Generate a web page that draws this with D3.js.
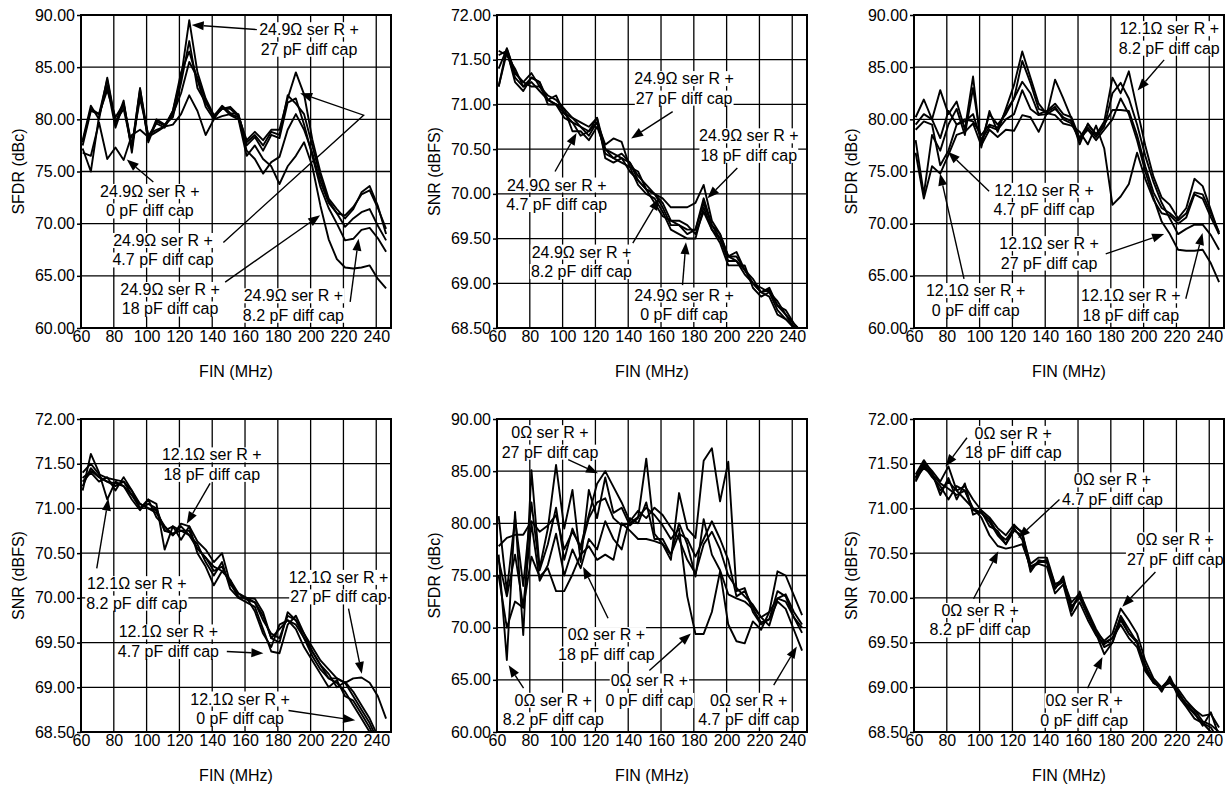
<!DOCTYPE html>
<html>
<head>
<meta charset="utf-8">
<script src="https://cdn.jsdelivr.net/npm/d3@7"></script>
<style>
  html, body { margin: 0; padding: 0; background: #fff; }
  svg { display: block; }
</style>
</head>
<body>
<svg id="chart" width="1231" height="785"></svg>
<script>
// input frequency sample points (MHz)
const fin = [61, 66, 71, 76, 81, 86, 91, 96, 101, 106, 111, 116, 121, 126, 131, 136, 141, 146, 151, 156,
  161, 166, 171, 176, 181, 186, 191, 196, 201, 206, 211, 216, 221, 226, 231, 236, 241, 246]

const finTicks = [60, 80, 100, 120, 140, 160, 180, 200, 220, 240]
const sfdrTicks = [60, 65, 70, 75, 80, 85, 90]
const snrTicks = [68.5, 69, 69.5, 70, 70.5, 71, 71.5, 72]

// 24.9 ohm series R, SFDR (dBc)
const sfdr24_0 = [76.8, 76.5, 79.7, 76.2, 77.3, 76.1, 78.5, 79.0, 78.3, 78.8, 79.3, 79.5, 80.5, 82.3, 80.8, 78.5, 80.0, 80.3, 80.5, 80.2,
  77.0, 76.2, 74.8, 75.9, 76.4, 79.0, 80.5, 79.0, 76.8, 74.0, 72.0, 71.0, 70.8, 71.6, 72.8, 73.2, 71.5, 69.5]
const sfdr24_4 = [77.8, 81.0, 80.5, 82.8, 80.2, 81.5, 77.5, 82.0, 78.5, 79.0, 79.3, 80.5, 82.5, 85.5, 84.0, 81.8, 80.2, 81.0, 81.0, 80.3,
  78.0, 78.8, 78.0, 79.0, 79.0, 82.0, 84.5, 82.4, 78.1, 74.9, 72.4, 71.4, 70.5, 71.4, 73.0, 73.6, 71.7, 69.0]
const sfdr24_8 = [77.5, 80.8, 80.5, 83.8, 79.6, 81.8, 76.8, 82.6, 78.0, 80.0, 79.5, 80.2, 83.5, 87.5, 83.0, 81.6, 80.3, 81.3, 80.6, 80.5,
  77.5, 78.3, 77.0, 78.5, 78.2, 81.6, 82.0, 79.5, 76.5, 73.5, 71.5, 70.0, 68.4, 68.55, 69.4, 69.6, 68.6, 67.3]
const sfdr24_18 = [77.2, 75.0, 80.3, 83.2, 79.2, 81.5, 77.2, 82.9, 78.4, 79.6, 79.2, 80.8, 84.5, 86.5, 83.8, 81.2, 80.0, 81.2, 80.4, 80.0,
  76.5, 77.5, 76.2, 75.5, 73.8, 75.5, 76.5, 77.8, 75.5, 71.7, 68.5, 66.6, 65.8, 65.7, 65.8, 66.0, 64.7, 63.8]
const sfdr24_27 = [78.0, 81.3, 80.0, 84.0, 79.8, 81.0, 77.3, 83.0, 77.8, 79.8, 79.4, 80.8, 84.0, 89.5, 84.5, 82.0, 80.4, 81.0, 81.2, 80.4,
  77.8, 78.5, 77.5, 78.8, 78.5, 82.3, 81.5, 80.5, 77.5, 74.5, 72.2, 71.0, 69.7, 70.5, 71.1, 71.4, 69.8, 68.4]

// 24.9 ohm series R, SNR (dBFS)
const snr24_0 = [71.20, 71.58, 71.30, 71.20, 71.25, 71.15, 71.05, 71.00, 70.90, 70.80, 70.75, 70.65, 70.80, 70.45, 70.40, 70.35, 70.30, 70.10, 70.00, 69.95,
  69.80, 69.60, 69.55, 69.50, 69.50, 69.85, 69.60, 69.50, 69.25, 69.25, 69.10, 69.00, 68.90, 68.85, 68.65, 68.60, 68.50, 68.40]
const snr24_4 = [71.40, 71.62, 71.35, 71.25, 71.35, 71.20, 71.10, 71.05, 70.95, 70.70, 70.70, 70.60, 70.75, 70.50, 70.40, 70.45, 70.35, 70.15, 70.05, 70.00,
  69.90, 69.70, 69.65, 69.60, 69.60, 69.95, 69.65, 69.55, 69.30, 69.35, 69.15, 69.05, 68.90, 68.95, 68.75, 68.70, 68.55, 68.45]
const snr24_8 = [71.55, 71.60, 71.25, 71.15, 71.30, 71.25, 71.00, 71.00, 70.85, 70.80, 70.65, 70.70, 70.85, 70.40, 70.35, 70.40, 70.25, 70.15, 70.05, 69.90,
  69.75, 69.70, 69.70, 69.65, 69.55, 69.80, 69.60, 69.45, 69.20, 69.20, 69.20, 68.95, 68.85, 68.90, 68.70, 68.60, 68.52, 68.42]
const snr24_18 = [71.60, 71.55, 71.40, 71.20, 71.30, 71.25, 71.05, 71.10, 70.90, 70.85, 70.80, 70.75, 70.85, 70.50, 70.45, 70.40, 70.35, 70.20, 70.10, 70.00,
  69.95, 69.85, 69.85, 69.85, 69.90, 70.10, 69.70, 69.55, 69.30, 69.30, 69.15, 69.00, 68.95, 68.90, 68.80, 68.65, 68.55, 68.45]
const snr24_27 = [71.20, 71.63, 71.35, 71.25, 71.20, 71.20, 71.05, 71.00, 70.95, 70.85, 70.75, 70.70, 70.80, 70.55, 70.62, 70.58, 70.30, 70.25, 70.05, 70.00,
  69.85, 69.65, 69.65, 69.55, 69.60, 69.90, 69.65, 69.50, 69.30, 69.25, 69.15, 69.00, 68.90, 68.92, 68.75, 68.65, 68.50, 68.40]

// 12.1 ohm series R, SFDR (dBc)
const sfdr12_0 = [76.8, 72.4, 75.5, 74.8, 76.6, 78.5, 78.8, 79.6, 77.5, 79.0, 78.3, 79.0, 78.9, 80.4, 80.2, 78.8, 80.6, 80.4, 79.6, 79.4,
  78.8, 77.6, 79.4, 77.2, 71.8, 72.6, 73.8, 76.8, 74.3, 72.3, 71.0, 70.8, 70.0, 70.6, 72.8, 72.4, 70.6, 69.0]
const sfdr12_4 = [78.0, 72.8, 78.5, 77.0, 79.5, 81.0, 78.5, 83.0, 77.8, 80.5, 79.5, 80.5, 82.0, 83.6, 82.5, 80.5, 80.8, 81.5, 80.5, 80.2,
  78.2, 79.5, 78.6, 79.5, 80.9, 80.9, 80.8, 78.5, 75.5, 73.0, 71.5, 71.0, 70.3, 71.0, 73.0, 72.8, 71.0, 69.2]
const sfdr12_8 = [79.5, 80.5, 80.0, 82.8, 80.5, 81.7, 79.0, 84.1, 77.3, 80.8, 78.8, 81.0, 83.3, 86.5, 84.0, 81.5, 80.5, 83.8, 82.0, 80.1,
  77.6, 79.6, 78.5, 79.8, 84.0, 82.5, 84.6, 81.0, 77.5, 74.5, 72.5, 71.8, 70.5, 71.5, 74.3, 73.6, 71.3, 69.0]
const sfdr12_18 = [80.2, 81.9, 80.0, 78.2, 80.8, 79.5, 80.0, 79.8, 78.5, 79.5, 79.2, 80.8, 82.0, 85.6, 83.5, 81.0, 80.7, 81.2, 80.0, 79.6,
  78.0, 79.2, 78.3, 79.3, 82.5, 83.5, 82.0, 79.5, 76.5, 74.0, 72.0, 70.5, 69.0, 69.5, 69.9, 69.9, 68.9, 67.5]
const sfdr12_27 = [79.0, 79.8, 79.5, 75.6, 77.0, 79.5, 79.8, 80.5, 78.0, 79.3, 79.0, 80.0, 80.5, 82.8, 81.0, 80.4, 80.5, 81.0, 80.2, 79.8,
  78.2, 79.0, 78.0, 79.0, 80.0, 82.0, 80.5, 78.0, 75.0, 72.5, 70.2, 69.0, 67.5, 67.4, 67.4, 67.5, 66.2, 64.4]

// 12.1 ohm series R, SNR (dBFS)
const snr12_0 = [71.25, 71.45, 71.35, 71.30, 71.25, 71.30, 71.15, 71.00, 71.05, 71.00, 70.75, 70.80, 70.75, 70.75, 70.55, 70.45, 70.30, 70.35, 70.15, 70.05,
  70.00, 69.95, 69.80, 69.55, 69.65, 69.75, 69.70, 69.55, 69.35, 69.20, 69.10, 69.05, 68.95, 68.80, 68.65, 68.50, 68.30, 68.10]
const snr12_4 = [71.30, 71.40, 71.30, 71.35, 71.20, 71.35, 71.20, 71.05, 71.00, 70.95, 70.80, 70.70, 70.80, 70.70, 70.60, 70.40, 70.25, 70.40, 70.10, 70.00,
  69.95, 69.90, 69.65, 69.40, 69.38, 69.70, 69.80, 69.60, 69.40, 69.25, 69.10, 69.10, 69.05, 68.90, 68.75, 68.60, 68.40, 68.20]
const snr12_8 = [71.20, 71.61, 71.40, 71.10, 71.30, 71.25, 71.10, 70.98, 71.10, 71.05, 70.54, 70.80, 70.65, 70.80, 70.50, 70.35, 70.14, 70.30, 70.20, 70.00,
  70.00, 69.85, 69.60, 69.45, 69.70, 69.75, 69.65, 69.45, 69.30, 69.15, 69.00, 69.08, 68.90, 68.85, 68.70, 68.55, 68.35, 68.15]
const snr12_18 = [71.40, 71.50, 71.38, 71.34, 71.32, 71.30, 71.20, 71.00, 71.10, 70.90, 70.80, 70.70, 70.83, 70.80, 70.63, 70.54, 70.40, 70.50, 70.16, 70.01,
  70.00, 69.99, 69.84, 69.55, 69.50, 69.84, 69.75, 69.55, 69.40, 69.25, 69.15, 69.00, 69.06, 68.95, 68.80, 68.65, 68.45, 68.25]
const snr12_27 = [71.34, 71.42, 71.35, 71.30, 71.28, 71.25, 71.15, 71.05, 71.00, 70.98, 70.75, 70.72, 70.75, 70.70, 70.55, 70.45, 70.35, 70.30, 70.20, 70.05,
  69.98, 69.95, 69.75, 69.60, 69.55, 69.80, 69.75, 69.60, 69.45, 69.30, 69.20, 69.10, 69.05, 69.10, 69.11, 69.05, 68.90, 68.65]

// 0 ohm series R, SFDR (dBc)
const sfdr0_0 = [80.7, 73.5, 80.5, 74.0, 82.0, 75.5, 78.0, 81.5, 76.5, 79.5, 77.5, 80.5, 82.0, 82.4, 80.5, 79.8, 80.0, 80.6, 81.5, 80.8,
  79.8, 78.5, 79.5, 73.0, 69.4, 69.4, 71.5, 75.4, 70.3, 68.7, 68.5, 70.6, 69.8, 71.5, 72.8, 72.5, 71.0, 70.0]
const sfdr0_4 = [75.0, 70.0, 72.5, 71.9, 76.8, 74.9, 75.7, 73.5, 73.5, 75.1, 77.0, 77.8, 76.5, 77.0, 76.5, 80.0, 79.3, 78.5, 78.5, 78.3,
  78.0, 77.0, 80.0, 78.0, 74.9, 80.4, 77.0, 75.5, 73.2, 72.8, 72.5, 71.8, 70.5, 70.8, 72.5, 71.8, 69.8, 67.8]
const sfdr0_8 = [77.0, 66.9, 81.1, 69.3, 85.1, 75.7, 79.5, 85.6, 79.5, 83.2, 76.3, 83.2, 80.5, 84.4, 81.0, 81.5, 79.8, 80.5, 86.2, 79.0,
  78.0, 76.5, 82.9, 79.5, 78.6, 86.0, 87.2, 82.1, 85.9, 73.5, 73.8, 71.5, 70.3, 70.8, 73.5, 73.0, 71.0, 69.5]
const sfdr0_18 = [76.5, 73.0, 77.0, 72.0, 80.0, 74.5, 76.0, 79.0, 75.0, 77.5, 75.7, 78.5, 77.5, 80.2, 78.5, 77.5, 80.5, 80.0, 82.0, 78.5,
  78.5, 77.0, 79.0, 78.5, 76.8, 78.5, 80.2, 78.5, 76.5, 73.0, 73.5, 72.0, 71.0, 70.2, 72.8, 73.2, 71.5, 70.3]
const sfdr0_27 = [77.8, 78.6, 78.9, 78.9, 80.2, 79.2, 79.8, 80.8, 77.5, 79.2, 77.8, 80.8, 83.8, 85.0, 83.5, 82.0, 80.2, 81.2, 80.5, 81.5,
  80.8, 79.6, 78.5, 76.5, 75.2, 78.0, 79.2, 77.5, 75.0, 73.8, 73.0, 72.2, 71.0, 71.5, 75.4, 75.0, 73.1, 71.2]

// 0 ohm series R, SNR (dBFS)
const snr0_0 = [71.32, 71.50, 71.38, 71.20, 71.30, 71.20, 71.10, 71.00, 70.95, 70.85, 70.70, 70.60, 70.75, 70.70, 70.35, 70.40, 70.40, 70.15, 70.20, 69.90,
  70.00, 69.80, 69.60, 69.37, 69.50, 69.75, 69.60, 69.50, 69.25, 69.05, 69.00, 69.05, 68.95, 68.80, 68.70, 68.60, 68.55, 68.40]
const snr0_4 = [71.38, 71.54, 71.40, 71.15, 71.34, 71.10, 71.28, 70.93, 70.97, 70.80, 70.75, 70.60, 70.80, 70.74, 70.29, 70.42, 70.40, 70.10, 70.24, 69.85,
  70.07, 69.80, 69.62, 69.45, 69.50, 69.80, 69.65, 69.50, 69.20, 69.06, 68.98, 69.08, 68.95, 68.80, 68.72, 68.57, 68.72, 68.45]
const snr0_8 = [71.30, 71.48, 71.35, 71.25, 71.10, 71.25, 71.20, 71.00, 70.90, 70.70, 70.58, 70.55, 70.57, 70.60, 70.35, 70.38, 70.35, 70.05, 70.15, 69.80,
  69.95, 69.75, 69.58, 69.48, 69.55, 69.70, 69.55, 69.45, 69.18, 69.05, 69.00, 69.10, 68.90, 68.78, 68.65, 68.60, 68.50, 68.40]
const snr0_18 = [71.35, 71.52, 71.42, 71.30, 71.47, 71.20, 71.25, 71.10, 70.98, 70.90, 70.78, 70.70, 70.82, 70.72, 70.38, 70.45, 70.45, 70.15, 70.20, 69.95,
  70.05, 69.85, 69.65, 69.50, 69.55, 69.78, 69.60, 69.52, 69.22, 69.08, 68.95, 69.12, 68.92, 68.82, 68.75, 68.62, 68.58, 68.50]
const snr0_27 = [71.34, 71.45, 71.38, 71.28, 71.22, 71.15, 71.20, 70.98, 70.95, 70.88, 70.72, 70.65, 70.78, 70.65, 70.32, 70.40, 70.42, 70.12, 70.18, 69.90,
  70.02, 69.82, 69.62, 69.52, 69.60, 69.88, 69.75, 69.60, 69.30, 69.10, 69.00, 69.08, 68.98, 68.85, 68.75, 68.68, 68.70, 68.55]

const FONT = '"Liberation Sans", Arial, Helvetica, sans-serif'
const plotW = 310, plotH = 313
const colX = [81, 497, 914]
const rowY = [15, 419]
const lineGap = 19.5

// each note: caption line, centre of first text line (data units), leader path ending at the arrow tip
const panels = [
  { col: 0, row: 0, title: "SFDR (dBc)", ticks: sfdrTicks, res: "24.9Ω ser R +",
    series: [sfdr24_0, sfdr24_4, sfdr24_8, sfdr24_18, sfdr24_27],
    notes: [
      { cap: "27 pF diff cap", x: 199, y: 88.6, path: [[167.2, 88.6], [127.5, 89.05]] },
      { cap: "0 pF diff cap", x: 102, y: 73.1, path: [[104.1, 74.0], [87.9, 76.15]] },
      { cap: "4.7 pF diff cap", x: 110, y: 68.4, path: [[146.8, 68.2], [232.3, 80.4], [193.6, 82.5]] },
      { cap: "18 pF diff cap", x: 114.3, y: 63.7, path: [[147.9, 64.4], [205.8, 70.8]] },
      { cap: "8.2 pF diff cap", x: 189.5, y: 63.1, path: [[224.1, 62.5], [229.2, 68.55]] }
    ] },
  { col: 1, row: 0, title: "SNR (dBFS)", ticks: snrTicks, res: "24.9Ω ser R +",
    series: [snr24_0, snr24_4, snr24_8, snr24_18, snr24_27],
    notes: [
      { cap: "27 pF diff cap", x: 174.1, y: 71.29, path: [[167.1, 70.92], [141.8, 70.62]] },
      { cap: "18 pF diff cap", x: 213.5, y: 70.65, path: [[206.5, 70.29], [188.3, 69.95]] },
      { cap: "4.7 pF diff cap", x: 96.4, y: 70.1, path: [[95.4, 70.25], [108.5, 70.68]] },
      { cap: "8.2 pF diff cap", x: 111.5, y: 69.35, path: [[142.8, 69.45], [159, 69.95]] },
      { cap: "0 pF diff cap", x: 174.1, y: 68.87, path: [[173.1, 68.98], [175.2, 69.46]] }
    ] },
  { col: 2, row: 0, title: "SFDR (dBc)", ticks: sfdrTicks, res: "12.1Ω ser R +",
    series: [sfdr12_0, sfdr12_4, sfdr12_8, sfdr12_18, sfdr12_27],
    notes: [
      { cap: "8.2 pF diff cap", x: 215.6, y: 88.7, path: [[212.5, 85.7], [196.3, 82.76]] },
      { cap: "4.7 pF diff cap", x: 139.3, y: 73.2, path: [[105.8, 73.1], [80.7, 76.9]] },
      { cap: "27 pF diff cap", x: 142.4, y: 68.1, path: [[176.9, 67.1], [212.5, 69.0]] },
      { cap: "0 pF diff cap", x: 97.6, y: 63.6, path: [[90.5, 64.7], [75.9, 74.8]] },
      { cap: "18 pF diff cap", x: 192.2, y: 63.1, path: [[225.7, 62.8], [235.9, 69.1]] }
    ] },
  { col: 0, row: 1, title: "SNR (dBFS)", ticks: snrTicks, res: "12.1Ω ser R +",
    series: [snr12_0, snr12_4, snr12_8, snr12_18, snr12_27],
    notes: [
      { cap: "18 pF diff cap", x: 139.7, y: 71.6, path: [[138.7, 71.28], [124.5, 70.83]] },
      { cap: "8.2 pF diff cap", x: 94, y: 70.16, path: [[69.6, 70.33], [76.7, 71.11]] },
      { cap: "4.7 pF diff cap", x: 113.3, y: 69.62, path: [[148.9, 69.4], [171.2, 69.38]] },
      { cap: "27 pF diff cap", x: 217, y: 70.23, path: [[223.1, 69.88], [231.2, 69.15]] },
      { cap: "0 pF diff cap", x: 157, y: 68.87, path: [[186.5, 68.74], [227.2, 68.63]] }
    ] },
  { col: 1, row: 1, title: "SFDR (dBc)", ticks: sfdrTicks, res: "0Ω ser R +",
    series: [sfdr0_0, sfdr0_4, sfdr0_8, sfdr0_18, sfdr0_27],
    notes: [
      { cap: "27 pF diff cap", x: 92.3, y: 88.7, path: [[103.4, 86.1], [121.6, 84.8]] },
      { cap: "18 pF diff cap", x: 126.7, y: 69.35, path: [[127.7, 70.9], [112.5, 75.85]] },
      { cap: "8.2 pF diff cap", x: 94.3, y: 63.05, path: [[76.2, 64.2], [67.1, 66.4]] },
      { cap: "0 pF diff cap", x: 152.9, y: 64.9, path: [[152.9, 65.9], [178.2, 69.45]] },
      { cap: "4.7 pF diff cap", x: 213.5, y: 63.05, path: [[228.7, 64.5], [242.8, 68.2]] }
    ] },
  { col: 2, row: 1, title: "SNR (dBFS)", ticks: snrTicks, res: "0Ω ser R +",
    series: [snr0_0, snr0_4, snr0_8, snr0_18, snr0_27],
    notes: [
      { cap: "18 pF diff cap", x: 120.5, y: 71.84, path: [[92.3, 71.79], [79.2, 71.47]] },
      { cap: "4.7 pF diff cap", x: 181, y: 71.32, path: [[148.7, 71.1], [123.5, 70.67]] },
      { cap: "27 pF diff cap", x: 219.3, y: 70.65, path: [[207.2, 70.29], [187, 69.9]] },
      { cap: "8.2 pF diff cap", x: 100.3, y: 69.86, path: [[96.3, 69.99], [111.4, 70.52]] },
      { cap: "0 pF diff cap", x: 163.8, y: 68.85, path: [[165.8, 68.99], [174.9, 69.34]] }
    ] }
]

const svg = d3.select("#chart")
  .attr("font-family", FONT)

panels.forEach((p, i) => {
  const left = colX[p.col], top = rowY[p.row]
  const x = d3.scaleLinear().domain([60, 249]).range([left, left + plotW])
  const y = d3.scaleLinear().domain([p.ticks[0], p.ticks[p.ticks.length - 1]]).range([top + plotH, top])

  const g = svg.append("g")

  // grid
  const grid = g.append("g").attr("stroke", "#000").attr("stroke-width", 1.3)
  grid.selectAll(".v").data(finTicks.slice(1)).join("line")
    .attr("x1", d => x(d)).attr("x2", d => x(d))
    .attr("y1", top).attr("y2", top + plotH)
  grid.selectAll(".h").data(p.ticks.slice(1, -1)).join("line")
    .attr("x1", left).attr("x2", left + plotW)
    .attr("y1", d => y(d)).attr("y2", d => y(d))

  const boxLayer = g.append("g")

  // data lines
  g.append("clipPath").attr("id", `clip${i}`)
    .append("rect").attr("x", left).attr("y", top).attr("width", plotW).attr("height", plotH)

  const line = d3.line().x((d, k) => x(fin[k])).y(d => y(d))
  g.append("g").attr("clip-path", `url(#clip${i})`)
    .selectAll("path").data(p.series).join("path")
    .attr("fill", "none")
    .attr("stroke", "#000")
    .attr("stroke-width", 1.9)
    .attr("stroke-linejoin", "round")
    .attr("d", line)

  // annotations
  const arrowLayer = g.append("g")
  const textLayer = g.append("g").attr("font-size", 16).attr("fill", "#000")

  p.notes.forEach(n => {
    const cx = x(n.x), cy = y(n.y)
    ;[p.res, n.cap].forEach((txt, k) => {
      const t = textLayer.append("text")
        .attr("x", cx).attr("y", cy + k * lineGap)
        .attr("dy", "0.35em")
        .attr("text-anchor", "middle")
        .text(txt)
      const b = t.node().getBBox()
      boxLayer.append("rect")
        .attr("x", b.x - 1).attr("y", b.y + 1)
        .attr("width", b.width + 2).attr("height", b.height - 2)
        .attr("fill", "#fff")
    })

    const pts = n.path.map(([a, b]) => [x(a), y(b)])
    const tip = pts[pts.length - 1], prev = pts[pts.length - 2]
    const len = Math.hypot(tip[0] - prev[0], tip[1] - prev[1])
    const ux = (tip[0] - prev[0]) / len, uy = (tip[1] - prev[1]) / len
    const headL = 12, headW = 4.5
    const base = [tip[0] - ux * headL, tip[1] - uy * headL]

    arrowLayer.append("path")
      .attr("fill", "none").attr("stroke", "#000").attr("stroke-width", 1.4)
      .attr("d", d3.line()([...pts.slice(0, -1), base]))
    arrowLayer.append("path")
      .attr("fill", "#000")
      .attr("d", d3.line()([tip, [base[0] - uy * headW, base[1] + ux * headW], [base[0] + uy * headW, base[1] - ux * headW]]) + "Z")
  })

  // frame
  g.append("rect")
    .attr("x", left).attr("y", top).attr("width", plotW).attr("height", plotH)
    .attr("fill", "none").attr("stroke", "#000").attr("stroke-width", 2)

  // axes
  g.append("g")
    .attr("transform", `translate(${left},0)`)
    .call(d3.axisLeft(y).tickValues(p.ticks).tickFormat(d3.format(".2f")).tickSizeInner(4).tickSizeOuter(0).tickPadding(2))
    .attr("font-size", 16).attr("font-family", FONT)
    .call(a => a.select(".domain").remove())
    .call(a => a.selectAll("line").attr("stroke", "#000").attr("stroke-width", 1.5))
    .call(a => a.selectAll("text").attr("fill", "#000"))

  g.append("g")
    .attr("transform", `translate(0,${top + plotH})`)
    .call(d3.axisBottom(x).tickValues(finTicks).tickSize(0).tickPadding(3))
    .attr("font-size", 16).attr("font-family", FONT)
    .call(a => a.select(".domain").remove())
    .call(a => a.selectAll("text").attr("fill", "#000"))

  g.append("text")
    .attr("x", left + plotW / 2).attr("y", top + plotH + 49)
    .attr("text-anchor", "middle").attr("font-size", 16)
    .text("FIN (MHz)")

  g.append("text")
    .attr("transform", `translate(${left - 57},${top + plotH / 2}) rotate(-90)`)
    .attr("text-anchor", "middle").attr("font-size", 16)
    .text(p.title)
})
</script>
</body>
</html>
